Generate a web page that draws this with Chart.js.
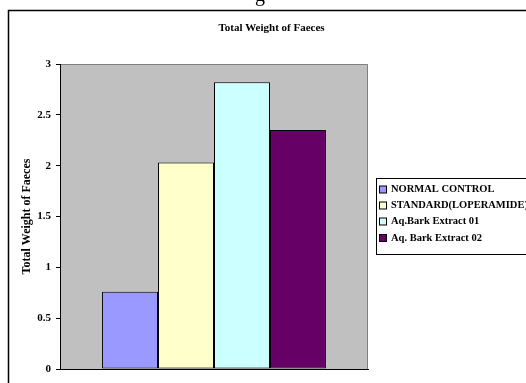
<!DOCTYPE html>
<html>
<head>
<meta charset="utf-8">
<script src="https://cdn.jsdelivr.net/npm/chart.js@4/dist/chart.umd.min.js"></script>
<style>
  html, body { margin: 0; padding: 0; background: #fff; }
  #wrap { position: relative; width: 526px; height: 383px; overflow: hidden; }
</style>
</head>
<body>
<div id="wrap"><canvas id="c" width="526" height="383"></canvas></div>
<script>
// Groups and their mean faecal weight
const groups = ['NORMAL CONTROL', 'STANDARD(LOPERAMIDE)', 'Aq.Bark Extract 01', 'Aq. Bark Extract 02'];
const weights = [0.76, 2.03, 2.82, 2.35];
const groupColors = ['#9999FF', '#FFFFCC', '#CCFFFF', '#660066'];
const yTicks = [0, 0.5, 1, 1.5, 2, 2.5, 3];

const chartTitle = 'Total Weight of Faeces';
const axisTitle = 'Total Weight of Faeces';
const serif = '"Liberation Serif", "Times New Roman", serif';

const datasets = groups.map((g, i) => ({
  label: g,
  data: [weights[i]],
  backgroundColor: groupColors[i],
  borderColor: '#000',
  borderWidth: 1,
  borderSkipped: false,
  categoryPercentage: 0.727,
  barPercentage: 1.0
}));

// Frame, plot background, title and boxed legend
const decor = {
  id: 'decor',
  beforeDraw(chart) {
    const ctx = chart.ctx;
    const a = chart.chartArea;
    ctx.save();
    ctx.fillStyle = '#fff';
    ctx.fillRect(0, 0, chart.width, chart.height);
    // text descender from the surrounding page
    ctx.fillStyle = '#000';
    ctx.font = '20px ' + serif;
    ctx.textAlign = 'center';
    ctx.textBaseline = 'alphabetic';
    ctx.fillText('g', 260, 1);
    // outer frame
    ctx.strokeStyle = '#000';
    ctx.lineWidth = 1.5;
    ctx.strokeRect(8.5, 10.5, 600, 400);
    // plot area
    ctx.fillStyle = '#C0C0C0';
    ctx.fillRect(a.left, a.top, a.right - a.left, a.bottom - a.top);
    ctx.strokeStyle = '#808080';
    ctx.lineWidth = 1;
    ctx.beginPath();
    ctx.moveTo(a.left, a.top + 0.5);
    ctx.lineTo(a.right - 0.5, a.top + 0.5);
    ctx.lineTo(a.right - 0.5, a.bottom);
    ctx.stroke();
    // title
    ctx.fillStyle = '#000';
    ctx.font = 'bold 11px ' + serif;
    ctx.textAlign = 'center';
    ctx.textBaseline = 'middle';
    ctx.fillText(chartTitle, 271.5, 28);
    ctx.restore();
  },
  afterDraw(chart) {
    const ctx = chart.ctx;
    ctx.save();
    ctx.strokeStyle = '#000';
    ctx.lineWidth = 1;
    ctx.strokeRect(376.5, 178.5, 220, 76);
    ctx.font = 'bold 10.5px ' + serif;
    ctx.textAlign = 'left';
    ctx.textBaseline = 'middle';
    const rows = [189.5, 205.5, 221.5, 238];
    chart.data.datasets.forEach((ds, i) => {
      const y = rows[i];
      ctx.fillStyle = ds.backgroundColor;
      ctx.fillRect(379.5, y - 3.5, 7, 7);
      ctx.strokeStyle = '#000';
      ctx.strokeRect(379.5, y - 3.5, 7, 7);
      ctx.fillStyle = '#000';
      ctx.fillText(ds.label, 391, y);
    });
    ctx.restore();
  }
};

new Chart(document.getElementById('c'), {
  type: 'bar',
  data: { labels: [''], datasets },
  options: {
    responsive: false,
    animation: false,
    layout: { padding: { top: 64, bottom: 14, left: 0, right: 158 } },
    plugins: {
      legend: { display: false },
      title: { display: false },
      tooltip: { enabled: false }
    },
    scales: {
      x: {
        ticks: { display: false },
        grid: { display: false },
        border: { display: true, color: '#000', width: 1 },
        afterFit(s) { s.height = 0; }
      },
      y: {
        min: 0,
        max: 3,
        afterBuildTicks(s) { s.ticks = yTicks.map(v => ({ value: v })); },
        ticks: {
          color: '#000',
          padding: 5,
          font: { family: serif, size: 11, weight: 'bold' },
          callback: v => String(v)
        },
        grid: {
          drawOnChartArea: false,
          drawTicks: true,
          tickLength: 4,
          color: '#000'
        },
        border: { display: true, color: '#000', width: 1 },
        title: {
          display: true,
          text: axisTitle,
          color: '#000',
          padding: { top: 20, bottom: 0 },
          font: { family: serif, size: 12, weight: 'bold' }
        },
        afterFit(s) { s.width = 60; }
      }
    }
  },
  plugins: [decor]
});
</script>
</body>
</html>
